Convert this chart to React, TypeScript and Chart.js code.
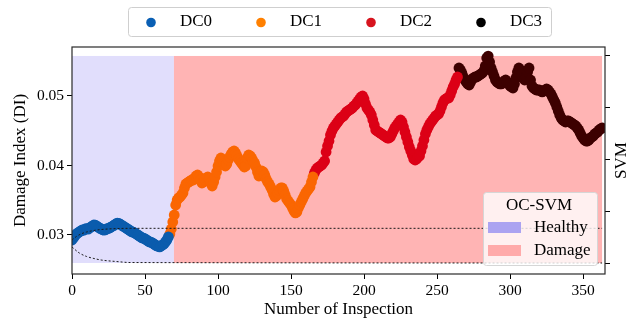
import React, { useEffect, useRef } from 'react';
import { Chart, registerables } from 'chart.js';

Chart.register(...registerables);

// ---------------- data ----------------
const classLabels = ['DC0', 'DC1', 'DC2', 'DC3'];
const classStarts = [0, 67, 166, 265];

const dc0 = [
  0.02928, 0.02957, 0.02986, 0.03014, 0.03029, 0.03043, 0.03058, 0.03072, 0.03068, 0.03086,
  0.03090, 0.03084, 0.03101, 0.03115, 0.03129, 0.03144, 0.03140, 0.03126, 0.03112, 0.03098,
  0.03088, 0.03075, 0.03070, 0.03078, 0.03090, 0.03095, 0.03105, 0.03118, 0.03130, 0.03142,
  0.03158, 0.03170, 0.03168, 0.03155, 0.03140, 0.03128, 0.03115, 0.03100, 0.03088, 0.03074,
  0.03060, 0.03045, 0.03040, 0.03030, 0.03015, 0.03002, 0.02988, 0.02972, 0.02958, 0.02955,
  0.02944, 0.02930, 0.02915, 0.02900, 0.02898, 0.02886, 0.02872, 0.02858, 0.02843, 0.02840,
  0.02828, 0.02842, 0.02857, 0.02871, 0.02900, 0.02930, 0.02972,
];

const dc1 = [
  0.03014, 0.03086, 0.03187, 0.03288, 0.03432, 0.03504, 0.03532, 0.03547, 0.03576, 0.03604,
  0.03676, 0.03734, 0.03748, 0.03763, 0.03777, 0.03791, 0.03791, 0.03820, 0.03849, 0.03863,
  0.03835, 0.03791, 0.03748, 0.03763, 0.03791, 0.03820, 0.03835, 0.03806, 0.03748, 0.03705,
  0.03763, 0.03835, 0.03906, 0.03993, 0.04065, 0.04108, 0.04079, 0.04022, 0.03993, 0.04022,
  0.04079, 0.04122, 0.04165, 0.04194, 0.04209, 0.04180, 0.04137, 0.04094, 0.04065, 0.04036,
  0.04007, 0.03978, 0.03993, 0.04108, 0.04151, 0.04137, 0.04108, 0.04065, 0.04036, 0.03978,
  0.03906, 0.03849, 0.03878, 0.03921, 0.03906, 0.03863, 0.03806, 0.03763, 0.03734, 0.03691,
  0.03647, 0.03590, 0.03547, 0.03561, 0.03604, 0.03647, 0.03676, 0.03676, 0.03633, 0.03576,
  0.03518, 0.03489, 0.03460, 0.03432, 0.03388, 0.03345, 0.03317, 0.03331, 0.03388, 0.03432,
  0.03475, 0.03518, 0.03561, 0.03604, 0.03633, 0.03662, 0.03691, 0.03763, 0.03835,
];

const dc2 = [
  0.03892, 0.03935, 0.03964, 0.03978, 0.03993, 0.04007, 0.04036, 0.04065, 0.04194, 0.04281,
  0.04352, 0.04439, 0.04496, 0.04540, 0.04568, 0.04597, 0.04626, 0.04655, 0.04683, 0.04698,
  0.04712, 0.04741, 0.04770, 0.04784, 0.04799, 0.04813, 0.04827, 0.04856, 0.04870, 0.04899,
  0.04928, 0.04957, 0.04986, 0.05000, 0.04957, 0.04885, 0.04827, 0.04799, 0.04770, 0.04727,
  0.04655, 0.04583, 0.04511, 0.04496, 0.04482, 0.04468, 0.04453, 0.04439, 0.04424, 0.04410,
  0.04396, 0.04396, 0.04410, 0.04453, 0.04496, 0.04540, 0.04568, 0.04597, 0.04626, 0.04655,
  0.04626, 0.04554, 0.04482, 0.04410, 0.04338, 0.04266, 0.04209, 0.04151, 0.04094, 0.04079,
  0.04094, 0.04122, 0.04137, 0.04209, 0.04281, 0.04367, 0.04453, 0.04511, 0.04554, 0.04597,
  0.04626, 0.04655, 0.04683, 0.04712, 0.04727, 0.04741, 0.04784, 0.04842, 0.04899, 0.04942,
  0.04957, 0.04971, 0.04971, 0.05014, 0.05072, 0.05129, 0.05173, 0.05230, 0.05273,
];

const dc3 = [
  0.05403, 0.05374, 0.05331, 0.05273, 0.05230, 0.05201, 0.05173, 0.05158, 0.05201, 0.05245,
  0.05259, 0.05273, 0.05273, 0.05288, 0.05302, 0.05316, 0.05331, 0.05360, 0.05432, 0.05547,
  0.05575, 0.05489, 0.05403, 0.05345, 0.05288, 0.05230, 0.05201, 0.05187, 0.05173, 0.05173,
  0.05187, 0.05216, 0.05230, 0.05201, 0.05173, 0.05144, 0.05129, 0.05115, 0.05173, 0.05259,
  0.05345, 0.05403, 0.05374, 0.05316, 0.05259, 0.05230, 0.05273, 0.05345, 0.05403, 0.05230,
  0.05144, 0.05115, 0.05101, 0.05086, 0.05086, 0.05086, 0.05072, 0.05058, 0.05072, 0.05086,
  0.05101, 0.05086, 0.05058, 0.05029, 0.04986, 0.04942, 0.04899, 0.04842, 0.04784, 0.04727,
  0.04683, 0.04655, 0.04640, 0.04626, 0.04640, 0.04640, 0.04626, 0.04612, 0.04597, 0.04583,
  0.04568, 0.04540, 0.04511, 0.04468, 0.04424, 0.04396, 0.04367, 0.04352, 0.04352, 0.04367,
  0.04396, 0.04410, 0.04424, 0.04453, 0.04468, 0.04482, 0.04511, 0.04525, 0.04540,
];

const classValues = [dc0, dc1, dc2, dc3];

// OC-SVM decision boundary contours (dashed)
const upperX = [0, 3, 6, 10, 15, 20, 30, 40, 363];
const upperY = [0.02928, 0.02978, 0.03014, 0.03043, 0.03065, 0.03079, 0.03092, 0.03096, 0.03096];
const lowerX = [0, 5, 10, 15, 20, 30, 40, 363];
const lowerY = [0.02827, 0.02741, 0.02691, 0.02662, 0.02640, 0.02619, 0.02604, 0.02597];

// OC-SVM regions
const regionLabels = ['Healthy', 'Damage'];
const regionX0 = [0, 69.8];
const regionX1 = [69.8, 363];
const regionYMin = 0.02597;
const regionYMax = 0.05576;

// ticks
const xTicks = [0, 50, 100, 150, 200, 250, 300, 350];
const yTicks = [0.03, 0.04, 0.05];
const svmTicks = [0, 1, 2, 3, 4];

// ---------------- styles ----------------
const pointColors = ['#0b5cad', '#fa6602', '#dc0016', '#3d0000'];
const legendColors = ['#0a5fb4', '#ff8000', '#d7141e', '#000000'];
const regionFill = ['#e1defc', '#ffb4b4'];
const regionPatch = ['#aba3f1', '#ffaaaa'];
const FONT = '"Liberation Serif", "Times New Roman", serif';

const overlayPlugin = {
  id: 'overlay',
  beforeDatasetsDraw(chart: any) {
    const { ctx, scales } = chart;
    const x = scales.x;
    const y = scales.y;
    ctx.save();
    regionX0.forEach((x0, k) => {
      const px0 = x.getPixelForValue(x0);
      const px1 = x.getPixelForValue(regionX1[k]);
      const py0 = y.getPixelForValue(regionYMax);
      const py1 = y.getPixelForValue(regionYMin);
      ctx.fillStyle = regionFill[k];
      ctx.fillRect(px0, py0, px1 - px0, py1 - py0);
    });
    ctx.restore();
  },
  afterDraw(chart: any) {
    const { ctx, chartArea } = chart;
    ctx.save();
    // frame
    ctx.strokeStyle = '#2a2a2a';
    ctx.lineWidth = 1.2;
    ctx.strokeRect(chartArea.left, chartArea.top, chartArea.right - chartArea.left, chartArea.bottom - chartArea.top);

    // top legend
    ctx.fillStyle = '#ffffff';
    ctx.strokeStyle = '#cfcfcf';
    ctx.lineWidth = 1;
    ctx.beginPath();
    ctx.roundRect(128.5, 7.5, 423, 29, 3);
    ctx.fill();
    ctx.stroke();
    ctx.font = `17px ${FONT}`;
    ctx.textBaseline = 'middle';
    ctx.textAlign = 'left';
    classLabels.forEach((lab, k) => {
      const cx = 151 + 110 * k;
      ctx.fillStyle = legendColors[k];
      ctx.beginPath();
      ctx.arc(cx, 22.5, 4.8, 0, Math.PI * 2);
      ctx.fill();
      ctx.fillStyle = '#000';
      ctx.fillText(lab, cx + 29, 22);
    });

    // OC-SVM legend
    ctx.fillStyle = 'rgba(255,255,255,0.8)';
    ctx.strokeStyle = '#d6d6d6';
    ctx.beginPath();
    ctx.roundRect(483.5, 192.5, 114, 73, 3);
    ctx.fill();
    ctx.stroke();
    ctx.fillStyle = '#000';
    ctx.textAlign = 'center';
    ctx.fillText('OC-SVM', 539, 206);
    ctx.textAlign = 'left';
    regionLabels.forEach((lab, k) => {
      const py = 222 + 23 * k;
      ctx.fillStyle = regionPatch[k];
      ctx.fillRect(488, py, 33, 11);
      ctx.fillStyle = '#000';
      ctx.fillText(lab, 534, py + 6);
    });

    // right axis label
    ctx.translate(622, (chartArea.top + chartArea.bottom) / 2);
    ctx.rotate(-Math.PI / 2);
    ctx.textAlign = 'center';
    ctx.fillStyle = '#000';
    ctx.fillText('SVM', 0, 0);
    ctx.restore();
  },
};

const gridOpts = {
  display: true,
  drawOnChartArea: false,
  drawTicks: true,
  tickLength: 5,
  tickColor: '#000',
  tickWidth: 1,
};

export default function App() {
  const ref = useRef<HTMLCanvasElement | null>(null);

  useEffect(() => {
    if (!ref.current) return;
    Chart.defaults.font.family = FONT;
    Chart.defaults.color = '#000';

    const scatterSets = classLabels.map((label, k) => ({
      type: 'scatter' as const,
      label,
      data: classValues[k].map((v, j) => ({ x: classStarts[k] + j, y: v })),
      backgroundColor: pointColors[k],
      borderWidth: 0,
      pointRadius: 5.4,
      pointHoverRadius: 5.4,
      order: 2,
    }));

    const boundarySets = [
      { x: upperX, y: upperY, label: 'upper' },
      { x: lowerX, y: lowerY, label: 'lower' },
    ].map((b) => ({
      type: 'line' as const,
      label: b.label,
      data: b.x.map((xv, j) => ({ x: xv, y: b.y[j] })),
      borderColor: '#1a1a1a',
      borderWidth: 1,
      borderDash: [2, 2],
      pointRadius: 0,
      fill: false,
      cubicInterpolationMode: 'monotone' as const,
      order: 1,
    }));

    const chart = new Chart(ref.current, {
      type: 'scatter',
      data: { datasets: [...scatterSets, ...boundarySets] as any },
      options: {
        animation: false,
        responsive: false,
        devicePixelRatio: 1,
        layout: { padding: { top: 47, left: 0, right: 0, bottom: 0 } },
        plugins: { legend: { display: false }, tooltip: { enabled: false } },
        scales: {
          x: {
            type: 'linear',
            position: 'bottom',
            min: 0,
            max: 365,
            afterBuildTicks: (s: any) => {
              s.ticks = xTicks.map((v) => ({ value: v }));
            },
            afterFit: (s: any) => {
              s.height = 48;
            },
            ticks: { font: { size: 15.5 }, padding: 3, maxRotation: 0, callback: (v: any) => String(v) },
            grid: gridOpts,
            border: { display: false },
            title: {
              display: true,
              text: 'Number of Inspection',
              font: { size: 17 },
              padding: { top: 0, bottom: 2 },
            },
          },
          y: {
            type: 'linear',
            position: 'left',
            min: 0.024388,
            max: 0.05705,
            afterBuildTicks: (s: any) => {
              s.ticks = yTicks.map((v) => ({ value: v }));
            },
            afterFit: (s: any) => {
              s.width = 72;
            },
            ticks: { font: { size: 15.5 }, padding: 3, callback: (v: any) => Number(v).toFixed(2) },
            grid: gridOpts,
            border: { display: false },
            title: {
              display: true,
              text: 'Damage Index (DI)',
              font: { size: 17 },
              padding: { top: 10, bottom: 0 },
            },
          },
          y2: {
            type: 'linear',
            position: 'right',
            min: -0.21,
            max: 4.17,
            afterBuildTicks: (s: any) => {
              s.ticks = svmTicks.map((v) => ({ value: v }));
            },
            afterFit: (s: any) => {
              s.width = 27;
            },
            ticks: { callback: () => '' },
            grid: gridOpts,
            border: { display: false },
          },
        },
      },
      plugins: [overlayPlugin],
    });

    return () => chart.destroy();
  }, []);

  return (
    <div style={{ position: 'fixed', left: 0, top: 0, width: 632, height: 322, background: '#fff' }}>
      <canvas ref={ref} width={632} height={322} style={{ width: 632, height: 322, display: 'block' }} />
    </div>
  );
}
